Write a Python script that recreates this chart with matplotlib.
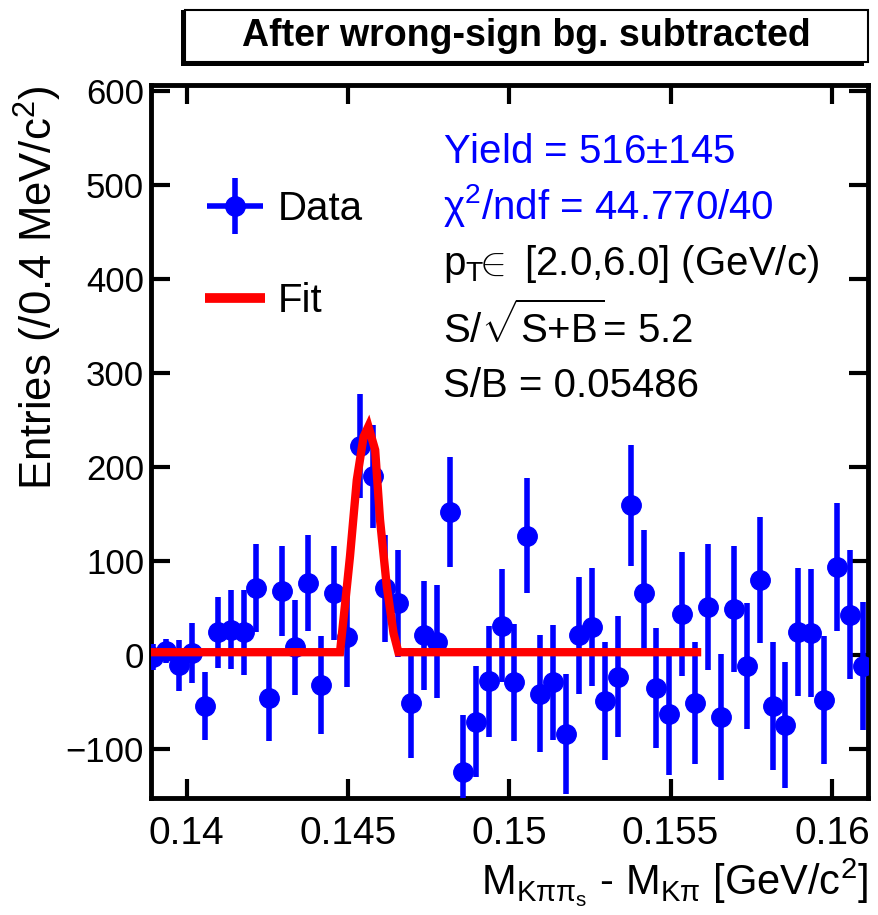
import numpy as np
import matplotlib
matplotlib.use("Agg")
from matplotlib import pyplot as plt
from matplotlib.lines import Line2D
from matplotlib.patches import Rectangle
from matplotlib.legend_handler import HandlerErrorbar

plt.rcParams['font.family'] = ['Liberation Sans', 'DejaVu Sans']
plt.rcParams['mathtext.fontset'] = 'custom'
plt.rcParams['mathtext.rm'] = 'Liberation Sans'
plt.rcParams['mathtext.it'] = 'Liberation Sans:italic'
plt.rcParams['mathtext.bf'] = 'Liberation Sans:bold'

# bin centres of the 0.4 MeV bins, first one sits on the left frame
first_bin = 0.13896
bin_width = 0.0004

entries = [-2, 4, -11, 2, -54, 24, 27, 24, 71, -46,
           68, 8, 77, -32, 66, 19, 222, 190, 71, 55,
           -51, 21, 14, 152, -124, -71, -28, 31, -29, 127,
           -41, -29, -84, 21, 30, -49, -23, 159, 66, -35,
           -63, 44, -51, 51, -66, 49, -12, 80, -54, -74,
           24, 23, -48, 94, 43, -12]
errors = [14, 13, 27, 32, 36, 38, 42, 45, 47, 45,
          48, 50, 51, 52, 50, 53, 55, 55, 57, 57,
          58, 58, 60, 58, 60, 59, 59, 60, 62, 61,
          62, 61, 64, 62, 63, 63, 64, 64, 67, 64,
          65, 66, 65, 67, 67, 67, 67, 67, 68, 67,
          68, 68, 68, 68, 69, 68]

# fit curve as drawn (polyline)
fit_x = [0.13889, 0.14475, 0.14491, 0.14506, 0.14527, 0.14548, 0.14563,
         0.14584, 0.14599, 0.14620, 0.14641, 0.14656, 0.15582]
fit_y = [3, 3, 55, 105, 186, 232, 243, 218, 144, 73, 23, 3, 3]

x_ticks = [0.14, 0.145, 0.15, 0.155, 0.16]
x_tick_labels = ["0.14", "0.145", "0.15", "0.155", "0.16"]
y_ticks = [-100, 0, 100, 200, 300, 400, 500, 600]

stats_lines = [("Yield = 516$\\pm$145", "blue"),
               ("$\\mathrm{\\chi}^{2}$/ndf = 44.770/40", "blue"),
               ("p$_{\\mathrm{T}}\\!\\!\\in$ [2.0,6.0] (GeV/c)", "black"),
               ("S/$\\sqrt{\\mathrm{S{+}B}}$= 5.2", "black"),
               ("S/B = 0.05486", "black")]
stats_baselines = [163, 219, 275, 343, 397]

W, H = 879, 915
fig = plt.figure(figsize=(W / 100, H / 100), dpi=100)
ax = fig.add_axes([151 / W, 1 - 798 / H, (868 - 151) / W, (798 - 85) / H])

centres = first_bin + bin_width * np.arange(len(entries))
data = ax.errorbar(centres, entries, yerr=errors, xerr=0, fmt='o', color='blue',
                   markersize=14, elinewidth=4, capsize=0, zorder=3)
fit_line, = ax.plot(fit_x, fit_y, color='red', lw=6, zorder=4,
                    solid_joinstyle='miter')

ax.set_xlim(0.13889, 0.16112)
ax.set_ylim(-152, 606)
ax.set_xticks(x_ticks)
ax.set_xticklabels(x_tick_labels)
ax.set_yticks(y_ticks)
ax.tick_params(direction='in', length=14, width=3, top=True, right=True, pad=8)
ax.tick_params(axis='y', labelsize=25, pad=5)
ax.tick_params(axis='x', labelsize=28, pad=13)
for sp in ax.spines.values():
    sp.set_linewidth(3.5)

ax.set_ylabel("Entries (/0.4 MeV/c$^{2}$)", fontsize=31.5, loc='top')
ax.yaxis.set_label_coords(-0.122, 1.0)
ax.set_xlabel("$\\mathrm{M_{K\\pi\\pi_{s}}}$ - $\\mathrm{M_{K\\pi}}$ [GeV/c$^{2}$]",
              fontsize=30, loc='right')
ax.xaxis.set_label_coords(1.0, -0.083)

leg_fit = Line2D([], [], color='red', lw=7, solid_capstyle='butt')
ax.legend([data, leg_fit], ["Data", "Fit"], loc='upper left',
          bbox_to_anchor=(205 / W, 1 - 190 / H), bbox_transform=fig.transFigure,
          frameon=False, fontsize=29, handlelength=1.5, handletextpad=0.3,
          labelspacing=1.35, borderpad=0, borderaxespad=0,
          handler_map={type(data): HandlerErrorbar(xerr_size=0.7, yerr_size=0.7)})

for (txt, col), base in zip(stats_lines, stats_baselines):
    fig.text(443 / W, 1 - base / H, txt, color=col, fontsize=29, va='baseline')

# title pave with shadow
fig.patches.append(Rectangle((181 / W, 1 - 66 / H), (864 - 181) / W, 56 / H,
                             transform=fig.transFigure, facecolor='black',
                             edgecolor='black', lw=0))
fig.patches.append(Rectangle((185 / W, 1 - 62 / H), (868 - 185) / W, 52 / H,
                             transform=fig.transFigure, facecolor='white',
                             edgecolor='black', lw=1.5))
fig.text((185 + 868) / 2 / W, 1 - 36 / H, "After wrong-sign bg. subtracted",
         fontsize=27, fontweight='bold', ha='center', va='center')

fig.savefig("out.png", dpi=100)
